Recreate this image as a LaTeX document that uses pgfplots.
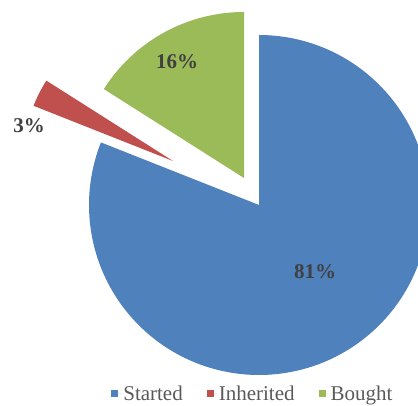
\documentclass[border=0pt]{standalone}
\usepackage{fontspec}
\setmainfont{Liberation Serif}
\usepackage{pgfplots}
\pgfplotsset{compat=1.18}
\definecolor{cBlue}{HTML}{4F81BD}
\definecolor{cRed}{HTML}{C0504D}
\definecolor{cGreen}{HTML}{9BBB59}
\definecolor{lbl}{HTML}{404040}
\definecolor{leg}{HTML}{595959}
% data (percent)
\def\vStarted{81}
\def\vInherited{3}
\def\vBought{16}
\begin{document}
\begin{tikzpicture}
\path[use as bounding box] (0,0) rectangle (418pt,406pt);
\begin{axis}[
  at={(0,0)}, anchor=south west,
  x=1pt, y=1pt, xmin=0, xmax=418, ymin=0, ymax=406,
  hide axis, clip=true,
  legend columns=3,
  legend image code/.code={\fill[#1] (0pt,-3.5pt) rectangle (7pt,3.5pt); \path (0pt,0pt) -- (10pt,0pt);},
  legend style={at={(0.605,0.0296)}, anchor=center, draw=none, fill=none,
    font=\fontsize{21}{25}\selectfont, text=leg, inner sep=0pt,
    nodes={inner sep=2pt},
    /tikz/every even column/.append style={column sep=22pt}},
]
\pgfmathsetmacro{\aS}{90-3.6*\vStarted}
\pgfmathsetmacro{\aI}{\aS-3.6*\vInherited+360}
\addplot[fill=cBlue, draw=none, domain=\aS:90, samples=240, variable=\t]
  ({259+170*cos(\t)}, {201+170*sin(\t)}) -- (axis cs:259,201) -- cycle;
\addlegendentry{Started}
\addplot[fill=cRed, draw=none, domain=\aI:\aS+360, samples=20, variable=\t]
  ({173+150*cos(\t)}, {245+150*sin(\t)}) -- (axis cs:173,245) -- cycle;
\addlegendentry{Inherited}
\addplot[fill=cGreen, draw=none, domain=90:\aI, samples=80, variable=\t]
  ({244+166*cos(\t)}, {228+166*sin(\t)}) -- (axis cs:244,228) -- cycle;
\addlegendentry{Bought}
\node[font=\bfseries\fontsize{21}{25}\selectfont, text=lbl] at (axis cs:315,134) {81\%};
\node[font=\bfseries\fontsize{21}{25}\selectfont, text=lbl] at (axis cs:177,344) {16\%};
\node[font=\bfseries\fontsize{21}{25}\selectfont, text=lbl] at (axis cs:29,280) {3\%};
\end{axis}
\end{tikzpicture}
\end{document}
